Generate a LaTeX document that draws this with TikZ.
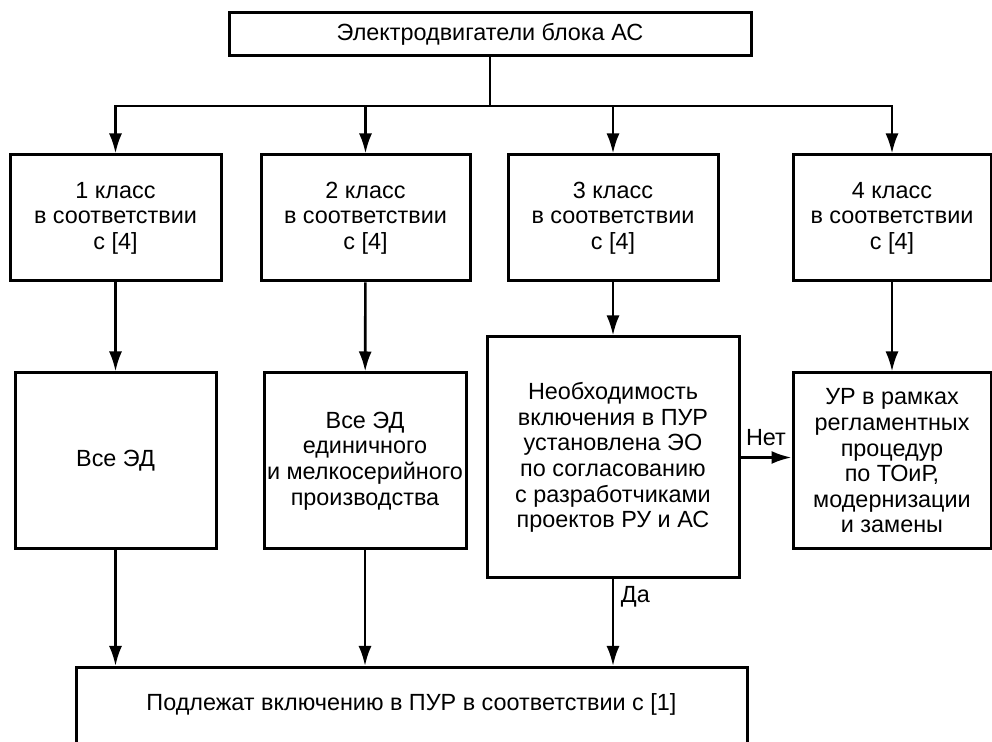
\documentclass[tikz,border=0pt]{standalone}
\usepackage{fontspec}
\setmainfont{Liberation Sans}
\usetikzlibrary{arrows.meta}
\begin{document}
\begin{tikzpicture}[x=0.5pt, y=-0.5pt, font=\fontsize{11.7}{12.8}\selectfont,
  box/.style={rectangle, draw, line width=1.5pt, align=center, inner xsep=1pt},
  arr/.style={-{Latex[length=10pt, width=6.5pt]}, line width=1.3pt}]
\useasboundingbox (0,0) rectangle (992,742);
\node (motors) at (490, 34.5) [box, minimum width=261pt, minimum height=21.5pt] {Электродвигатели блока АС};
\node (cls1) at (115.5, 218) [box, minimum width=105.5pt, minimum height=63pt] {1 класс\\в соответствии\\с [4]};
\node (cls2) at (365.5, 218) [box, minimum width=104.5pt, minimum height=63pt] {2 класс\\в соответствии\\с [4]};
\node (cls3) at (613, 218) [box, minimum width=105pt, minimum height=63pt] {3 класс\\в соответствии\\с [4]};
\node (cls4) at (892, 218) [box, minimum width=99pt, minimum height=63pt] {4 класс\\в соответствии\\с [4]};
\node (all) at (115.5, 461) [box, minimum width=100.5pt, minimum height=88pt] {Все ЭД};
\node (small) at (365, 461) [box, minimum width=101pt, minimum height=88pt] {Все ЭД\\единичного\\и мелкосерийного\\производства};
\node (need) at (613, 457.5) [box, minimum width=126pt, minimum height=120.5pt] {Необходимость\\включения в ПУР\\установлена ЭО\\по согласованию\\с разработчиками\\проектов РУ и АС};
\node (routine) at (892, 461) [box, minimum width=99pt, minimum height=88pt] {УР в рамках\\регламентных\\процедур\\по ТОиР,\\модернизации\\и замены};
\node (plan) at (411.5, 666) [box, anchor=north, minimum width=335.5pt, inner ysep=13pt, text height=8.5pt, text depth=40pt] {Подлежат включению в ПУР в соответствии с [1]};
\coordinate (split) at (490, 106);
\draw [line width=1.3pt] (motors) -- (split);
\path [arr, to path = (\tikztostart) -| (\tikztotarget)] (split) edge (cls1) (split) edge (cls2) (split) edge (cls3) (split) edge (cls4);
\path [arr] (cls1) edge (all) (cls2) edge (small) (cls3) edge (need) (cls4) edge (routine);
\draw [arr] (need.east) -- (need.east -| routine.west) node [midway, above, yshift=2pt] {Нет};
\draw [arr] (all.south) -- (all.south |- plan.north);
\draw [arr] (small.south) -- (small.south |- plan.north);
\draw [arr] (need.south) -- (need.south |- plan.north) node [pos=0.2, right] {Да};
\end{tikzpicture}
\end{document}
